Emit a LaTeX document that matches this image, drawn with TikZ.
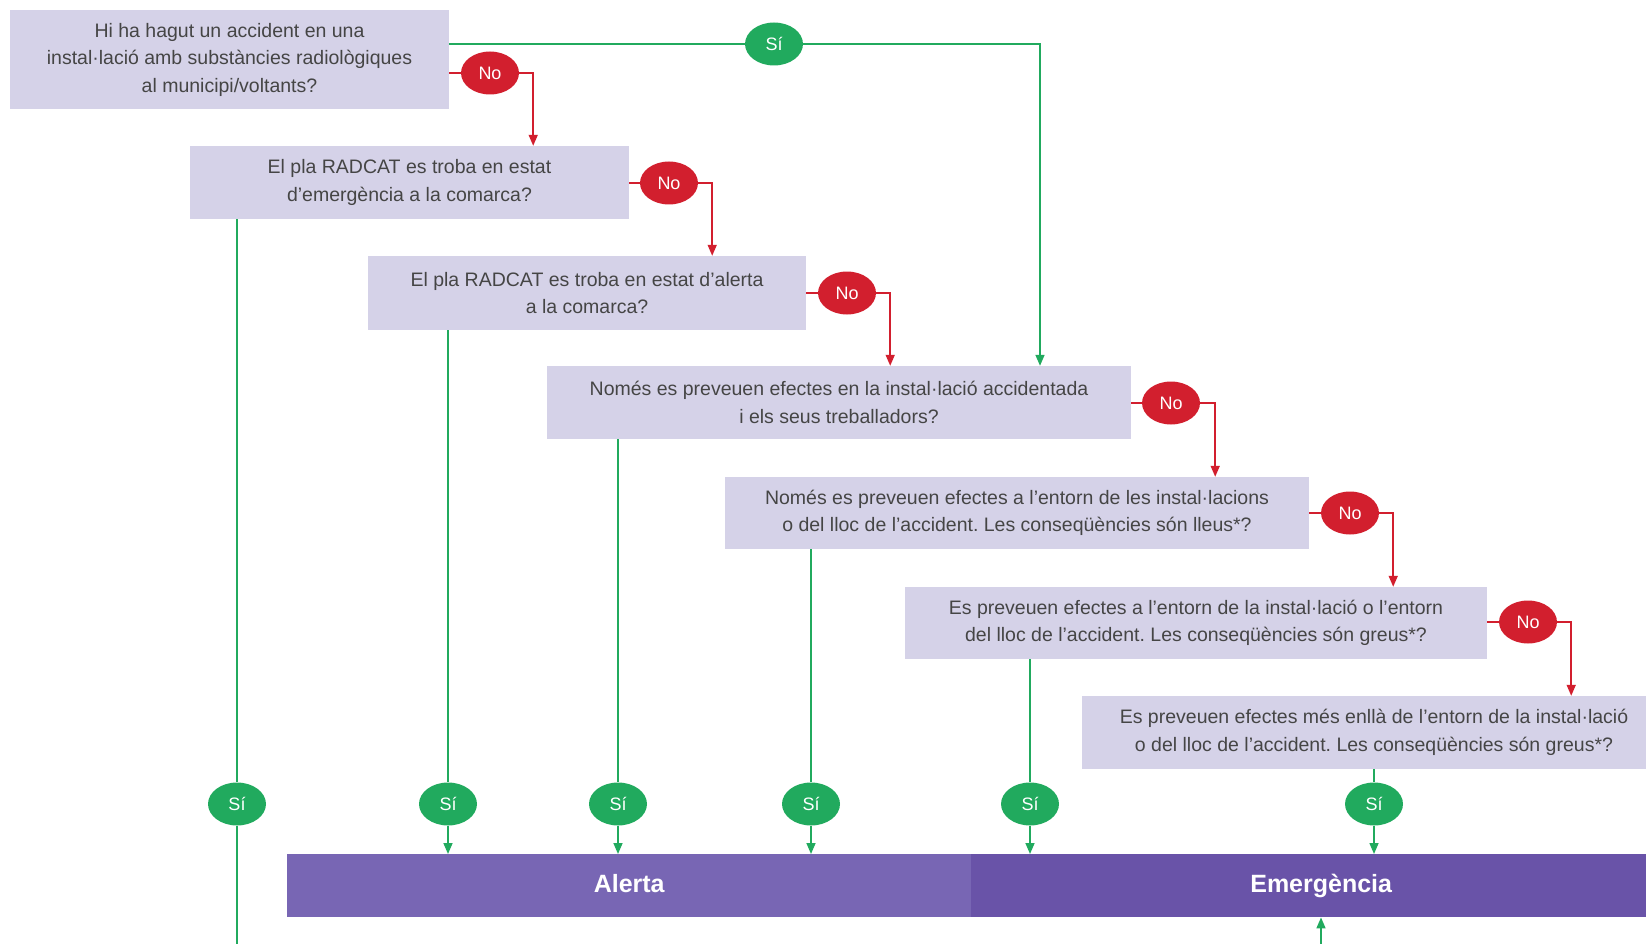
\documentclass[tikz,border=0pt]{standalone}
\usepackage{fontspec}
\setmainfont{Liberation Sans}
\usepackage{xcolor}
\definecolor{qfill}{HTML}{D5D2E8}
\definecolor{qtext}{HTML}{454545}
\definecolor{radred}{HTML}{D21F2E}
\definecolor{radgreen}{HTML}{21AA5E}
\definecolor{alertfill}{HTML}{7866B4}
\definecolor{emergfill}{HTML}{6953A8}
\usepackage{tikz}
\usetikzlibrary{positioning,arrows.meta,shapes.geometric,calc}
\frenchspacing
\tikzset{
  qbox/.style   ={rectangle, fill=qfill, text=qtext, align=center, inner sep=2pt,
                  font=\fontsize{19.5}{27.5}\selectfont},
  nobub/.style  ={ellipse, fill=radred, text=white, minimum width=58pt, minimum height=43pt,
                  inner sep=0pt, font=\fontsize{18}{20}\selectfont},
  sibub/.style  ={nobub, fill=radgreen},
  lvl/.style    ={rectangle, anchor=north west, minimum height=63pt, inner sep=0pt,
                  text height=19pt, text depth=5pt,
                  text=white, font=\fontsize{25}{28}\bfseries},
  noline/.style ={draw=radred, line width=1.6pt},
  noarr/.style  ={noline, -{Triangle[length=11pt, width=9pt]}},
  siline/.style ={draw=radgreen, line width=1.6pt},
  siarr/.style  ={siline, -{Triangle[length=11pt, width=9pt]}},
}

\begin{document}
\begin{tikzpicture}[x=1pt, y=-1pt]
  \useasboundingbox (0,0) rectangle (1646,944);
  % questions
  \node[qbox, minimum width=439pt, minimum height=99pt] (q1) at (229.5,59.5)
    {Hi ha hagut un accident en una\\instal·lació amb substàncies radiològiques\\al municipi/voltants?};
  \node[qbox, minimum width=439pt, minimum height=73pt] (q2) at (409.5,182.5)
    {El pla RADCAT es troba en estat\\d’emergència a la comarca?};
  \node[qbox, minimum width=438pt, minimum height=74pt] (q3) at (587,293)
    {El pla RADCAT es troba en estat d’alerta\\a la comarca?};
  \node[qbox, minimum width=584pt, minimum height=73pt] (q4) at (839,402.5)
    {Només es preveuen efectes en la instal·lació accidentada\\i els seus treballadors?};
  \node[qbox, minimum width=584pt, minimum height=72pt] (q5) at (1017,513)
    {Només es preveuen efectes a l’entorn de les instal·lacions\\o del lloc de l’accident. Les conseqüències són lleus*?};
  \node[qbox, minimum width=582pt, minimum height=72pt] (q6) at (1196,623)
    {Es preveuen efectes a l’entorn de la instal·lació o l’entorn\\del lloc de l’accident. Les conseqüències són greus*?};
  \node[qbox, minimum width=584pt, minimum height=73pt] (q7) at (1374,732.5)
    {Es preveuen efectes més enllà de l’entorn de la instal·lació\\o del lloc de l’accident. Les conseqüències són greus*?};

  % levels
  \node[lvl, fill=alertfill, minimum width=684pt] (alerta) at (287,854) {Alerta};
  \node[lvl, fill=emergfill, minimum width=700pt] (emerg) at (971,854) {Emergència};

  % no branches
  \node[nobub] (n1) at (490,73) {No};
  \node[nobub] (n2) at (669,183) {No};
  \node[nobub] (n3) at (847,293) {No};
  \node[nobub] (n4) at (1171,403) {No};
  \node[nobub] (n5) at (1350,513) {No};
  \node[nobub] (n6) at (1528,622) {No};
  \draw[noline] (q1.east |- n1) -- (n1);
  \draw[noline] (q2.east |- n2) -- (n2);
  \draw[noline] (q3.east |- n3) -- (n3);
  \draw[noline] (q4.east |- n4) -- (n4);
  \draw[noline] (q5.east |- n5) -- (n5);
  \draw[noline] (q6.east |- n6) -- (n6);
  \draw[noarr] (n1.east) -| ([xshift=14pt]n1.east |- q2.north);
  \draw[noarr] (n2.east) -| ([xshift=14pt]n2.east |- q3.north);
  \draw[noarr] (n3.east) -| ([xshift=14pt]n3.east |- q4.north);
  \draw[noarr] (n4.east) -| ([xshift=15pt]n4.east |- q5.north);
  \draw[noarr] (n5.east) -| ([xshift=14pt]n5.east |- q6.north);
  \draw[noarr] (n6.east) -| ([xshift=14pt]n6.east |- q7.north);

  % yes branches
  \node[sibub] (s0) at (774,44) {Sí};
  \draw[siline] (q1.east |- s0) -- (s0);
  \draw[siarr] (s0.east) -| ([xshift=201pt]q4.north);

  \node[sibub] (s1) at (237,804) {Sí};
  \node[sibub] (s2) at (448,804) {Sí};
  \node[sibub] (s3) at (618,804) {Sí};
  \node[sibub] (s4) at (811,804) {Sí};
  \node[sibub] (s5) at (1030,804) {Sí};
  \node[sibub] (s6) at (1374,804) {Sí};
  \coordinate (out) at (237,944);
  \coordinate (in) at (1321,944);
  \draw[siline] (q2.south -| s1) -- (s1);
  \draw[siline] (q3.south -| s2) -- (s2);
  \draw[siline] (q4.south -| s3) -- (s3);
  \draw[siline] (q5.south -| s4) -- (s4);
  \draw[siline] (q6.south -| s5) -- (s5);
  \draw[siline] (q7.south -| s6) -- (s6);
  \draw[siline] (s1) -- (out);
  \draw[siarr] (s2) -- (s2 |- alerta.north);
  \draw[siarr] (s3) -- (s3 |- alerta.north);
  \draw[siarr] (s4) -- (s4 |- alerta.north);
  \draw[siarr] (s5) -- (s5 |- emerg.north);
  \draw[siarr] (s6) -- (s6 |- emerg.north);
  \draw[siarr] (in) -- (emerg.south -| in);
\end{tikzpicture}
\end{document}
